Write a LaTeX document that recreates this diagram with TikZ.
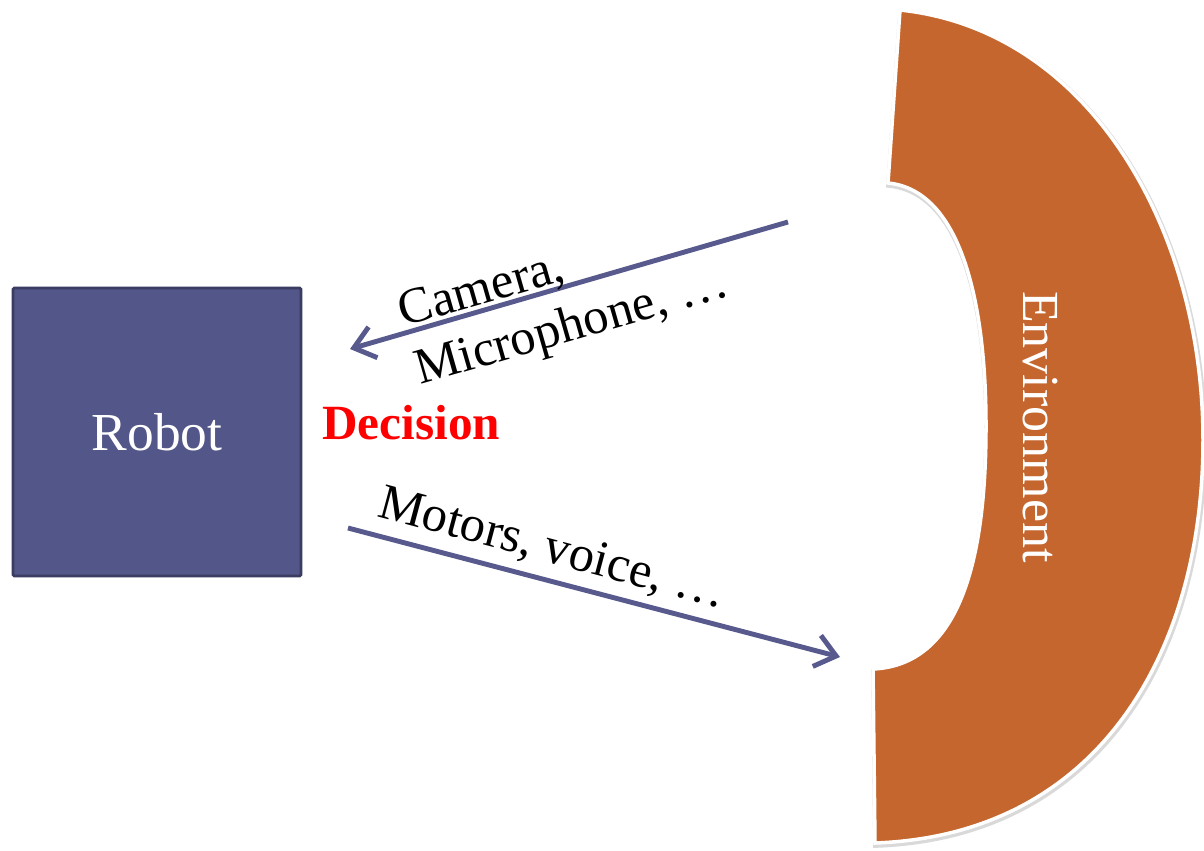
\documentclass[tikz,border=0pt]{standalone}
\usepackage{fontspec}
\setmainfont{Liberation Serif}
\usetikzlibrary{arrows.meta,positioning}
\definecolor{robotblue}{RGB}{83,86,136}
\definecolor{robotedge}{RGB}{58,60,98}
\definecolor{arrowblue}{RGB}{88,90,142}
\definecolor{envorange}{RGB}{196,102,46}
\tikzset{
  robotbox/.style={rectangle, rounded corners=1pt, draw=robotedge, line width=2pt, fill=robotblue,
                   minimum size=7.2cm, text=white, font=\fontsize{38}{44}\selectfont},
  signal/.style={-{Straight Barb[length=5mm, width=8mm]}, line width=3.5pt, arrowblue},
  signallabel/.style={font=\fontsize{36}{43}\selectfont, inner sep=0pt, align=left},
  envlabel/.style={text=white, font=\fontsize{37}{44}\selectfont, inner sep=0pt},
  envrim/.style={draw=black!15, line width=4pt, shift={(1,2)}},
}

\begin{document}
\begin{tikzpicture}[x=0.025cm, y=-0.025cm]
\useasboundingbox (0,0) rectangle (1204,850);

% the environment, a thick arc open to the left
\def\envpath{(900,10) .. controls (1090,30) and (1203,230) .. (1203,440)
  .. controls (1203,650) and (1100,835) .. (875,843) -- (873,669)
  .. controls (960,665) and (986,560) .. (986,426)
  .. controls (986,300) and (960,190) .. (888,183) -- cycle}
\path[envrim] \envpath;
\path[fill=envorange, draw=white, line width=2.5pt] \envpath;
\node[envlabel, rotate=-90, anchor=base] (env) at (1023,427) {Environment};

\node[robotbox] (robot) at (157,432) {Robot};
\node[font=\bfseries\fontsize{35}{42}\selectfont, text=red, anchor=base west, inner sep=0pt]
  (decision) at (322,439) {Decision};

\coordinate (senseA) at (788,222);
\coordinate (senseB) at (350,349);
\coordinate (actA) at (348,528);
\coordinate (actB) at (840,657);
\draw[signal] (senseA) -- (senseB);
\draw[signal] (actA) -- (actB);

\node[signallabel, rotate=16, anchor=base west] (sense) at (420,385) {Camera,\\Microphone, …};
\node[signallabel, rotate=-15, anchor=base west] (act) at (376,516) {Motors, voice, …};
\end{tikzpicture}
\end{document}
